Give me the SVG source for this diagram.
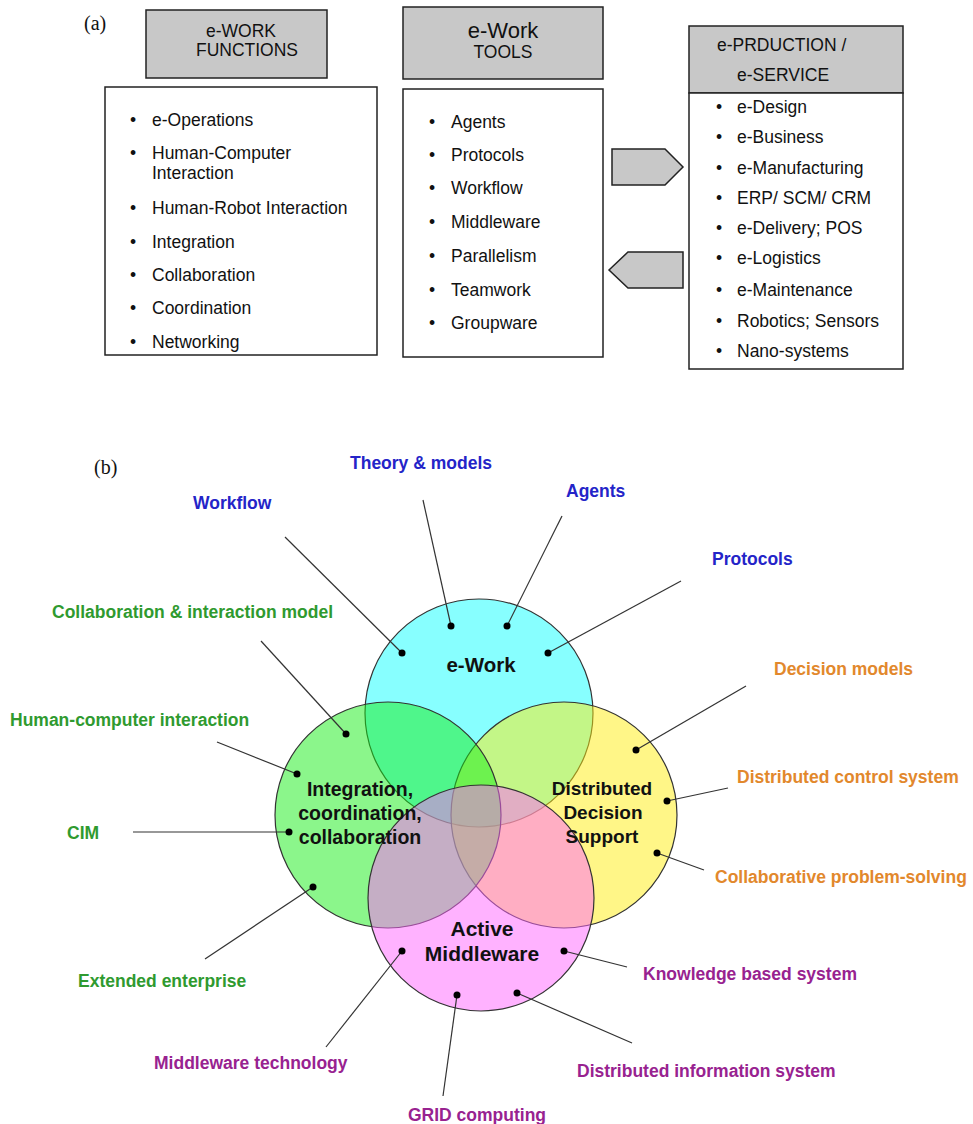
<svg xmlns="http://www.w3.org/2000/svg" width="973" height="1124" viewBox="0 0 973 1124">
<style>
.hdr{fill:#c8c8c8;stroke:#222;stroke-width:1.5}
.box{fill:#fff;stroke:#222;stroke-width:1.5}
.t{font-family:"Liberation Sans",Arial,sans-serif;font-size:17.5px;fill:#111}
.b{font-family:"Liberation Sans",Arial,sans-serif;font-size:17.5px;fill:#111;text-anchor:middle}
.ser{font-family:"Liberation Serif","Times New Roman",serif;font-size:20px;fill:#111}
.arr{fill:#c8c8c8;stroke:#222;stroke-width:1.5}
.circ{stroke:#333;stroke-width:1.2;fill-opacity:0.5}
.in{font-family:"Liberation Sans",Arial,sans-serif;font-weight:bold;fill:#111;text-anchor:middle}
.lb{font-family:"Liberation Sans",Arial,sans-serif;font-weight:bold;font-size:17.5px}
.blue{fill:#2424c8}
.green{fill:#2f9a2f}
.orange{fill:#e2882c}
.purple{fill:#982290}
.ln{stroke:#333;stroke-width:1.2;fill:none}
.dot{fill:#000}
</style>

<text class="ser" x="84" y="30">(a)</text>

<g id="functions">
<rect class="hdr" x="146" y="10" width="181" height="68"/>
<text class="t" x="241" y="37" text-anchor="middle">e-WORK</text>
<text class="t" x="247" y="56" text-anchor="middle">FUNCTIONS</text>
<rect class="box" x="105" y="87" width="272" height="268"/>
<text class="b" x="133" y="126">•</text><text class="t" x="152" y="126">e-Operations</text>
<text class="b" x="133" y="159">•</text><text class="t" x="152" y="159">Human-Computer</text>
<text class="t" x="152" y="179">Interaction</text>
<text class="b" x="133" y="214">•</text><text class="t" x="152" y="214">Human-Robot Interaction</text>
<text class="b" x="133" y="248">•</text><text class="t" x="152" y="248">Integration</text>
<text class="b" x="133" y="281">•</text><text class="t" x="152" y="281">Collaboration</text>
<text class="b" x="133" y="314">•</text><text class="t" x="152" y="314">Coordination</text>
<text class="b" x="133" y="348">•</text><text class="t" x="152" y="348">Networking</text>
</g>

<g id="tools">
<rect class="hdr" x="403" y="7" width="200" height="72"/>
<text class="t" x="503" y="38" text-anchor="middle" style="font-size:22px">e-Work</text>
<text class="t" x="503" y="58" text-anchor="middle">TOOLS</text>
<rect class="box" x="403" y="89" width="200" height="268"/>
<text class="b" x="432" y="128">•</text><text class="t" x="451" y="128">Agents</text>
<text class="b" x="432" y="161">•</text><text class="t" x="451" y="161">Protocols</text>
<text class="b" x="432" y="194">•</text><text class="t" x="451" y="194">Workflow</text>
<text class="b" x="432" y="228">•</text><text class="t" x="451" y="228">Middleware</text>
<text class="b" x="432" y="262">•</text><text class="t" x="451" y="262">Parallelism</text>
<text class="b" x="432" y="296">•</text><text class="t" x="451" y="296">Teamwork</text>
<text class="b" x="432" y="329">•</text><text class="t" x="451" y="329">Groupware</text>
</g>

<g id="production">
<rect class="hdr" x="689" y="26" width="214" height="67"/>
<text class="t" x="717" y="51">e-PRDUCTION /</text>
<text class="t" x="737" y="81">e-SERVICE</text>
<rect class="box" x="689" y="93" width="214" height="276"/>
<text class="b" x="719" y="113">•</text><text class="t" x="737" y="113">e-Design</text>
<text class="b" x="719" y="143">•</text><text class="t" x="737" y="143">e-Business</text>
<text class="b" x="719" y="174">•</text><text class="t" x="737" y="174">e-Manufacturing</text>
<text class="b" x="719" y="204">•</text><text class="t" x="737" y="204">ERP/ SCM/ CRM</text>
<text class="b" x="719" y="234">•</text><text class="t" x="737" y="234">e-Delivery; POS</text>
<text class="b" x="719" y="264">•</text><text class="t" x="737" y="264">e-Logistics</text>
<text class="b" x="719" y="296">•</text><text class="t" x="737" y="296">e-Maintenance</text>
<text class="b" x="719" y="327">•</text><text class="t" x="737" y="327">Robotics; Sensors</text>
<text class="b" x="719" y="357">•</text><text class="t" x="737" y="357">Nano-systems</text>
</g>

<g id="arrows">
<polygon class="arr" points="612,149 665,149 683,167 665,185 612,185"/>
<polygon class="arr" points="609,270 628,252 683,252 683,288 628,288"/>
</g>

<text class="ser" x="94" y="474">(b)</text>

<g id="venn">
<circle id="ework" class="circ" cx="479" cy="713" r="114" fill="#10ffff"/>
<circle id="dds" class="circ" cx="564" cy="815" r="113" fill="#ffee10"/>
<circle id="icc" class="circ" cx="388" cy="815" r="113" fill="#18ee18"/>
<circle id="am" class="circ" cx="481" cy="898" r="113" fill="#ff66ff"/>
</g>

<g id="circle-labels">
<text class="in" x="481" y="672" font-size="20.5">e-Work</text>
<text class="in" x="360" y="796" font-size="19.5">Integration,</text>
<text class="in" x="360" y="820" font-size="19.5">coordination,</text>
<text class="in" x="360" y="844" font-size="19.5">collaboration</text>
<text class="in" x="602" y="795" font-size="19">Distributed</text>
<text class="in" x="603" y="819" font-size="19">Decision</text>
<text class="in" x="602" y="843" font-size="19">Support</text>
<text class="in" x="482" y="936" font-size="21">Active</text>
<text class="in" x="482" y="961" font-size="21">Middleware</text>
</g>

<g id="connectors">
<line class="ln" x1="423" y1="500" x2="451" y2="626"/>
<line class="ln" x1="562" y1="516" x2="507" y2="626"/>
<line class="ln" x1="285" y1="537" x2="402" y2="653"/>
<line class="ln" x1="681" y1="581" x2="548" y2="653"/>
<line class="ln" x1="261" y1="641" x2="346" y2="734"/>
<line class="ln" x1="217" y1="742" x2="297" y2="774"/>
<line class="ln" x1="133" y1="832" x2="289" y2="832"/>
<line class="ln" x1="205" y1="959" x2="313" y2="887"/>
<line class="ln" x1="746" y1="686" x2="636" y2="750"/>
<line class="ln" x1="728" y1="788" x2="667" y2="801"/>
<line class="ln" x1="704" y1="870" x2="657" y2="853"/>
<line class="ln" x1="627" y1="967" x2="564" y2="951"/>
<line class="ln" x1="632" y1="1043" x2="517" y2="993"/>
<line class="ln" x1="443" y1="1096" x2="457" y2="995"/>
<line class="ln" x1="326" y1="1047" x2="402" y2="951"/>
<circle class="dot" cx="451" cy="626" r="3.5"/>
<circle class="dot" cx="507" cy="626" r="3.5"/>
<circle class="dot" cx="402" cy="653" r="3.5"/>
<circle class="dot" cx="548" cy="653" r="3.5"/>
<circle class="dot" cx="346" cy="734" r="3.5"/>
<circle class="dot" cx="297" cy="774" r="3.5"/>
<circle class="dot" cx="289" cy="832" r="3.5"/>
<circle class="dot" cx="313" cy="887" r="3.5"/>
<circle class="dot" cx="636" cy="750" r="3.5"/>
<circle class="dot" cx="667" cy="801" r="3.5"/>
<circle class="dot" cx="657" cy="853" r="3.5"/>
<circle class="dot" cx="564" cy="951" r="3.5"/>
<circle class="dot" cx="517" cy="993" r="3.5"/>
<circle class="dot" cx="457" cy="995" r="3.5"/>
<circle class="dot" cx="402" cy="951" r="3.5"/>
</g>

<g id="labels">
<text class="lb blue" x="350" y="469">Theory &amp; models</text>
<text class="lb blue" x="193" y="509">Workflow</text>
<text class="lb blue" x="566" y="497">Agents</text>
<text class="lb blue" x="712" y="565">Protocols</text>
<text class="lb green" x="52" y="618">Collaboration &amp; interaction model</text>
<text class="lb green" x="10" y="726">Human-computer interaction</text>
<text class="lb green" x="67" y="839">CIM</text>
<text class="lb green" x="78" y="987">Extended enterprise</text>
<text class="lb orange" x="774" y="675">Decision models</text>
<text class="lb orange" x="737" y="783">Distributed control system</text>
<text class="lb orange" x="715" y="883">Collaborative problem-solving</text>
<text class="lb purple" x="643" y="980">Knowledge based system</text>
<text class="lb purple" x="577" y="1077">Distributed information system</text>
<text class="lb purple" x="154" y="1069">Middleware technology</text>
<text class="lb purple" x="408" y="1121">GRID computing</text>
</g>
</svg>
